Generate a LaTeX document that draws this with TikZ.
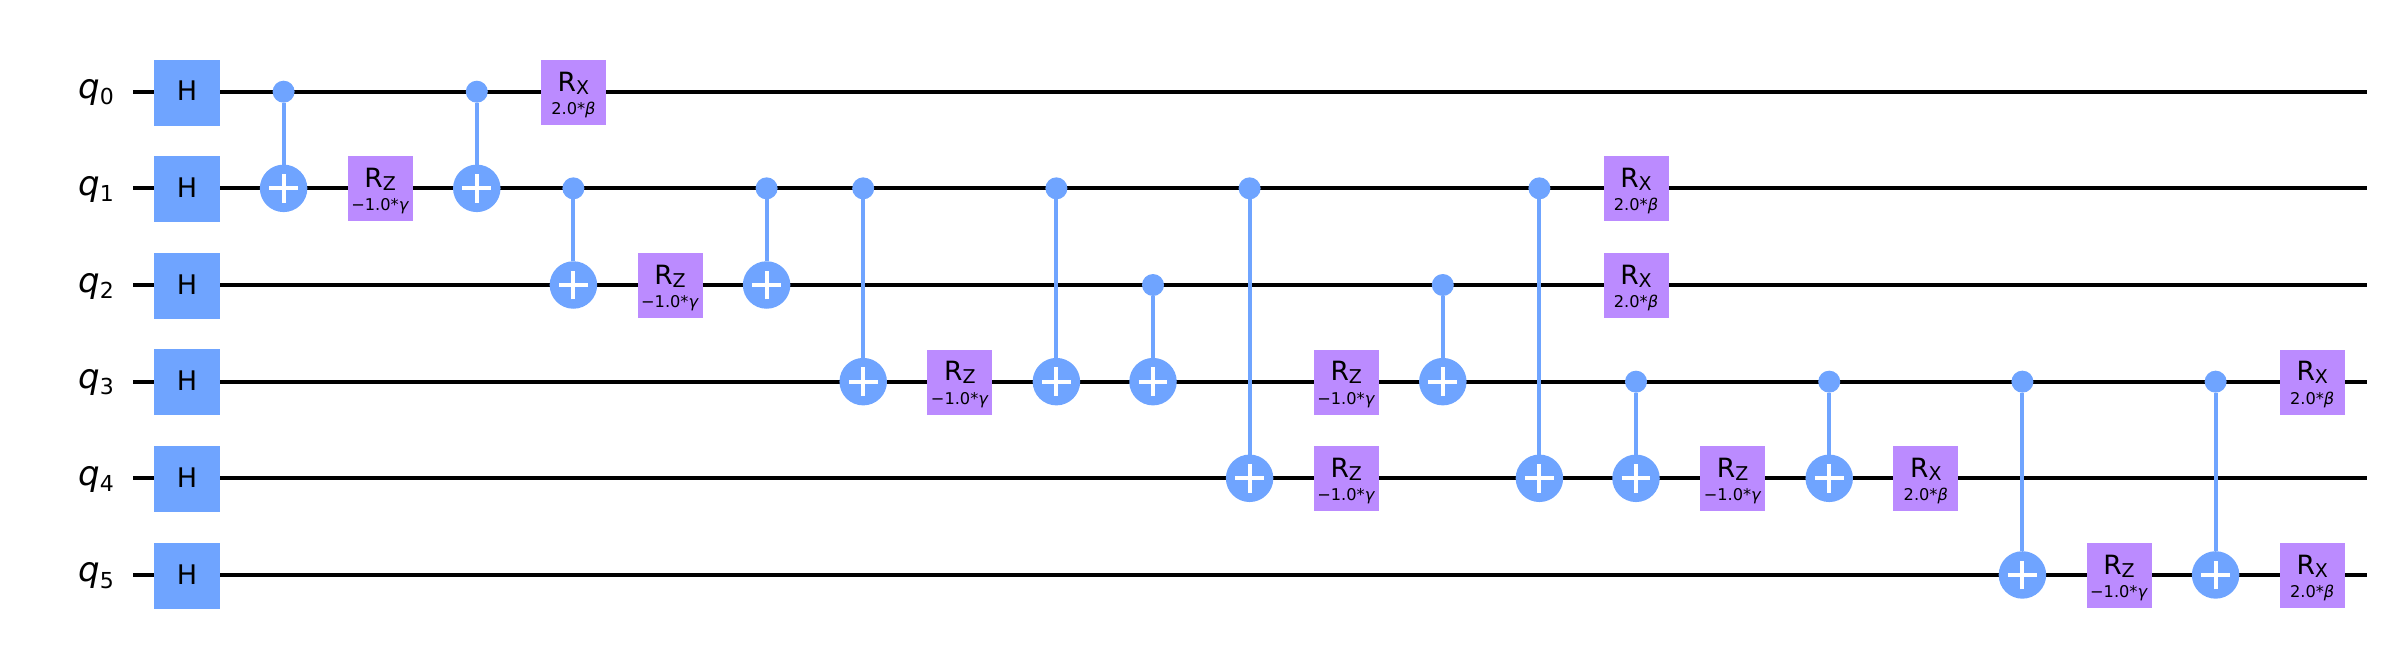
\documentclass[tikz,border=0pt]{standalone}
\usepackage{fontspec}
\setmainfont{DejaVu Sans}
\definecolor{qblue}{HTML}{6FA4FF}
\definecolor{qpurple}{HTML}{BB8BFF}
\tikzset{
  x=1pt,y=-1pt,
  wire/.style={line width=4.2pt,black,line cap=butt},
  hgate/.style={fill=qblue,minimum size=66pt,inner sep=0pt,outer sep=0pt,font=\fontsize{27}{27}\selectfont},
  rgate/.style={fill=qpurple,minimum size=65pt,inner sep=0pt,outer sep=0pt},
  rtitle/.style={anchor=base,inner sep=0pt,font=\fontsize{26.5}{26.5}\selectfont},
  rparam/.style={anchor=base,inner sep=0pt,font=\fontsize{16.2}{16.2}\selectfont},
  ctrl/.style={circle,fill=qblue,minimum size=22pt,inner sep=0pt,outer sep=0pt},
  targ/.style={circle,fill=qblue,minimum size=47.5pt,inner sep=0pt,outer sep=0pt},
  link/.style={draw=qblue,line width=4pt},
  plusbar/.style={draw=white,line width=4pt},
  qlabel/.style={anchor=base east,inner sep=0pt,font=\fontsize{34}{34}\selectfont\itshape}
}
\newcommand{\colx}[1]{187+96.6*#1}
\newcommand{\rowy}[1]{91.7+96.65*#1}
\newcommand{\qreg}[1]{%
  \coordinate (ws#1) at (133,{\rowy{#1}});
  \coordinate (we#1) at (2367,{\rowy{#1}});
  \draw[wire] (ws#1) -- (we#1);
  \node[qlabel] (lab#1) at (114,{\rowy{#1}+7}) {q\raisebox{-6.2pt}{\fontsize{22}{22}\selectfont\upshape #1}};
  \node[hgate] (h#1) at ({\colx{0}},{\rowy{#1}+0.8}) {\raisebox{3pt}{H}};
}
\newcommand{\cxgate}[3]{%
  \node[ctrl] (c#1) at ({\colx{#1}},{\rowy{#2}}) {};
  \node[targ] (t#1) at ({\colx{#1}},{\rowy{#3}}) {};
  \draw[link] (c#1) -- (t#1);
  \draw[plusbar] ([xshift=-14.4pt]t#1.center) -- ([xshift=14.4pt]t#1.center);
  \draw[plusbar] ([yshift=-14.4pt]t#1.center) -- ([yshift=14.4pt]t#1.center);
}
\newcommand{\rgatebox}[5]{%
  \node[rgate] (#1) at ({\colx{#2}},{\rowy{#3}+0.6}) {};
  \node[rtitle] (#1t) at ([yshift=1.3pt]#1.center) {R\raisebox{-3pt}{\fontsize{19}{19}\selectfont #4}};
  \node[rparam] (#1p) at ([yshift=-22pt]#1.center) {#5};
}
\newcommand{\rzq}[3]{\rgatebox{#1}{#2}{#3}{Z}{−1.0*\textit{γ}}}
\newcommand{\rxq}[3]{\rgatebox{#1}{#2}{#3}{X}{2.0*\textit{β}}}
\begin{document}
\begin{tikzpicture}
\useasboundingbox (0,0) rectangle (2390,648);
\qreg{0}\qreg{1}\qreg{2}\qreg{3}\qreg{4}\qreg{5}
\cxgate{1}{0}{1}
\rzq{rz2}{2}{1}
\cxgate{3}{0}{1}
\rxq{rx4}{4}{0}
\cxgate{4}{1}{2}
\rzq{rz5}{5}{2}
\cxgate{6}{1}{2}
\cxgate{7}{1}{3}
\rzq{rz8}{8}{3}
\cxgate{9}{1}{3}
\cxgate{10}{2}{3}
\cxgate{11}{1}{4}
\rzq{rz12a}{12}{3}
\rzq{rz12b}{12}{4}
\cxgate{13}{2}{3}
\cxgate{14}{1}{4}
\rxq{rx15a}{15}{1}
\rxq{rx15b}{15}{2}
\cxgate{15}{3}{4}
\rzq{rz16}{16}{4}
\cxgate{17}{3}{4}
\rxq{rx18}{18}{4}
\cxgate{19}{3}{5}
\rzq{rz20}{20}{5}
\cxgate{21}{3}{5}
\rxq{rx22a}{22}{3}
\rxq{rx22b}{22}{5}
\end{tikzpicture}
\end{document}
